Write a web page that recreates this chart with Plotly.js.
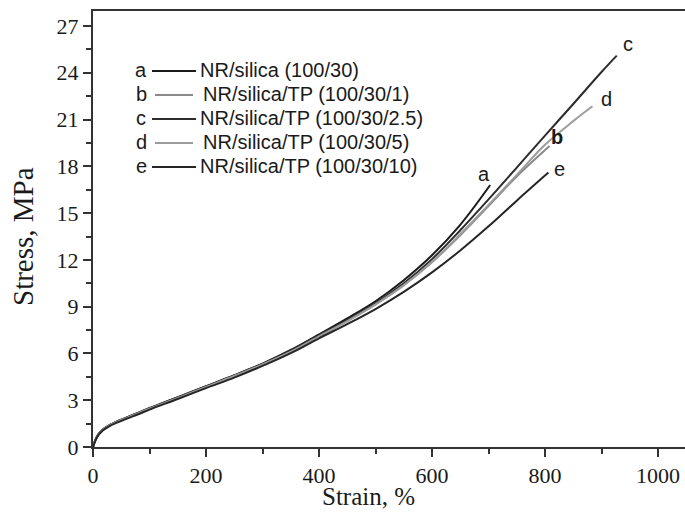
<!DOCTYPE html>
<html>
<head>
<meta charset="utf-8">
<script src="https://cdn.plot.ly/plotly-3.0.1.min.js"></script>
<style>html,body{margin:0;padding:0;background:#fff;}#chart{width:685px;height:512px;}</style>
</head>
<body>
<div id="chart"></div>
<script>
// ---- data ----
const letters = ["a", "b", "c", "d", "e"];
const names = ["NR/silica (100/30)", "NR/silica/TP (100/30/1)", "NR/silica/TP (100/30/2.5)", "NR/silica/TP (100/30/5)", "NR/silica/TP (100/30/10)"];
const colors = ["#1a1a1a", "#8a8a8a", "#2c2c2c", "#9c9c9c", "#262626"];

const strainBase = [0, 3, 6, 10, 15, 20, 30, 40, 60, 80, 100, 150, 200, 250, 300, 350, 400, 450, 500, 550, 600, 650];

const strainA = strainBase.concat([703]);
const stressA = [0, 0.35, 0.6, 0.85, 1.05, 1.2, 1.42, 1.6, 1.9, 2.2, 2.5, 3.2, 3.9, 4.6, 5.35, 6.22, 7.22, 8.25, 9.35, 10.7, 12.3, 14.25, 16.8];

const strainB = strainBase.concat([700, 750, 808]);
const stressB = [0, 0.33, 0.58, 0.82, 1.02, 1.17, 1.4, 1.57, 1.87, 2.17, 2.45, 3.15, 3.85, 4.55, 5.3, 6.12, 7.1, 8.08, 9.15, 10.38, 11.85, 13.58, 15.45, 17.35, 19.3];

const strainC = strainBase.concat([700, 750, 800, 850, 900, 927]);
const stressC = [0, 0.34, 0.6, 0.84, 1.04, 1.19, 1.42, 1.59, 1.89, 2.19, 2.48, 3.18, 3.88, 4.58, 5.33, 6.18, 7.18, 8.16, 9.22, 10.5, 12.05, 13.9, 15.88, 17.92, 19.97, 22.0, 24.05, 25.1];

const strainD = strainBase.concat([700, 750, 800, 850, 884]);
const stressD = [0, 0.33, 0.58, 0.82, 1.02, 1.17, 1.4, 1.57, 1.87, 2.17, 2.45, 3.15, 3.85, 4.55, 5.3, 6.12, 7.1, 8.08, 9.15, 10.38, 11.88, 13.65, 15.52, 17.45, 19.38, 20.9, 21.85];

const strainE = strainBase.concat([700, 750, 806]);
const stressE = [0, 0.3, 0.55, 0.78, 0.98, 1.13, 1.36, 1.53, 1.82, 2.1, 2.4, 3.08, 3.78, 4.45, 5.2, 6.02, 6.97, 7.88, 8.85, 9.95, 11.2, 12.6, 14.15, 15.8, 17.6];

const xTicks = [0, 200, 400, 600, 800, 1000];
const yTicks = [0, 3, 6, 9, 12, 15, 18, 21, 24, 27];
const xTitle = "Strain, %";
const yTitle = "Stress, MPa";

// ---- build chart ----
const allX = [strainA, strainB, strainC, strainD, strainE];
const allY = [stressA, stressB, stressC, stressD, stressE];

const traces = allX.map((xs, i) => ({
  x: xs, y: allY[i], type: "scatter", mode: "lines", name: letters[i] + " " + names[i],
  line: {color: colors[i], width: 2, shape: "spline", smoothing: 1},
  showlegend: false, hoverinfo: "skip"
}));

const W = 685, H = 512, mL = 93, mR = 0, mT = 11, mB = 65;
const pw = W - mL - mR, ph = H - mT - mB;
const px = v => (v - mL) / pw;
const py = v => (H - mB - v) / ph;

const sansFont = {family: "Liberation Sans, Arial, sans-serif", size: 20, color: "#1a1a1a"};
const serifFont = {family: "Liberation Serif, Times New Roman, serif", size: 22, color: "#1a1a1a"};
const titleFont = {family: "Liberation Serif, Times New Roman, serif", size: 25, color: "#1a1a1a"};

const annotations = [];
const shapes = [];
const rowY = [70, 94, 118, 142, 166];
letters.forEach((l, i) => {
  annotations.push({xref: "paper", yref: "paper", x: px(141), y: py(rowY[i]), text: l, showarrow: false,
    font: sansFont, xanchor: "center", yanchor: "middle"});
  const gray = (i === 1 || i === 3);
  shapes.push({type: "line", xref: "paper", yref: "paper", x0: px(gray ? 155 : 152), x1: px(gray ? 193 : 196),
    y0: py(rowY[i] + 1), y1: py(rowY[i] + 1), line: {color: colors[i], width: 2}});
  annotations.push({xref: "paper", yref: "paper", x: px(gray ? 201 : 198), y: py(rowY[i]), text: names[i], showarrow: false,
    font: sansFont, xanchor: "left", yanchor: "middle"});
});

// end labels next to curve ends
const endOffsets = [[-6, 11], [7, 9], [11, 12], [14, 7], [11, 4]];
letters.forEach((l, i) => {
  const xs = allX[i], ys = allY[i];
  annotations.push({xref: "x", yref: "y", x: xs[xs.length - 1], y: ys[ys.length - 1], text: (i === 1 ? "<b>" + l + "</b>" : l), showarrow: false,
    xshift: endOffsets[i][0], yshift: endOffsets[i][1], font: sansFont, xanchor: "center", yanchor: "middle"});
});

// axis titles
annotations.push({xref: "paper", yref: "paper", x: px(368), y: py(496), text: xTitle, showarrow: false,
  font: titleFont, xanchor: "center", yanchor: "middle"});
annotations.push({xref: "paper", yref: "paper", x: px(23), y: py(237), text: yTitle, showarrow: false,
  font: {family: titleFont.family, size: 29, color: titleFont.color}, xanchor: "center", yanchor: "middle", textangle: -90});

const layout = {
  width: W, height: H,
  margin: {l: mL, r: mR, t: mT, b: mB, pad: 0},
  paper_bgcolor: "#fff", plot_bgcolor: "#fff",
  showlegend: false,
  xaxis: {
    range: [0, 1000 * pw / 565], tickmode: "array", tickvals: xTicks, ticktext: xTicks.map(String),
    ticks: "outside", ticklen: 8, tickwidth: 2, tickcolor: "#333",
    minor: {dtick: 100, ticks: "outside", ticklen: 5, tickwidth: 2, tickcolor: "#333", showgrid: false},
    showline: true, linewidth: 2, linecolor: "#333", mirror: true,
    showgrid: false, zeroline: false, tickfont: serifFont
  },
  yaxis: {
    range: [0, ph / (421 / 27)], tickmode: "array", tickvals: yTicks, ticktext: yTicks.map(String),
    ticks: "outside", ticklen: 8, tickwidth: 2, tickcolor: "#333",
    minor: {dtick: 1.5, ticks: "outside", ticklen: 5, tickwidth: 2, tickcolor: "#333", showgrid: false},
    showline: true, linewidth: 2, linecolor: "#333", mirror: false,
    showgrid: false, zeroline: false, tickfont: serifFont
  },
  annotations: annotations,
  shapes: shapes
};

Plotly.newPlot("chart", traces, layout, {displayModeBar: false, staticPlot: true});
</script>
</body>
</html>
